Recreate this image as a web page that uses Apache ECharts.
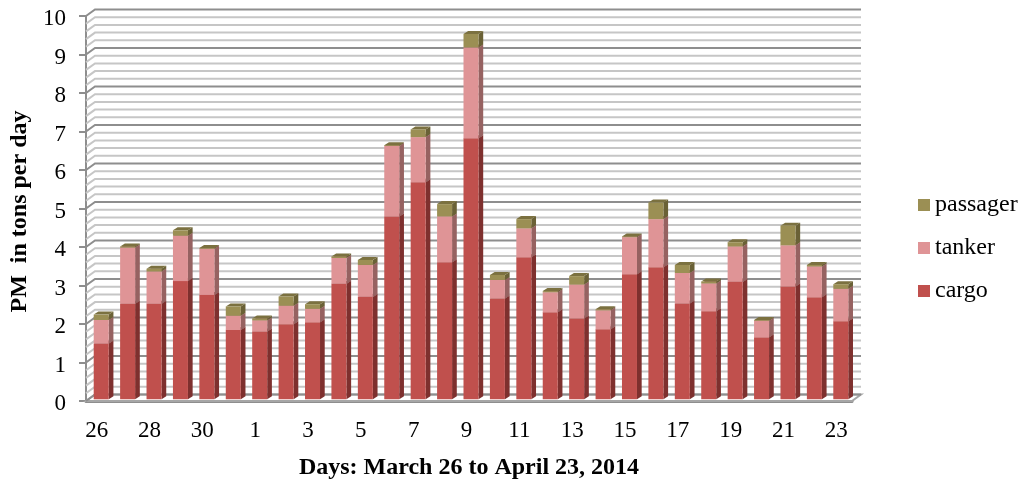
<!DOCTYPE html>
<html lang="en">
<head>
    <meta charset="UTF-8">
    <title>PM in tons per day</title>
    <script src="https://cdn.jsdelivr.net/npm/echarts@6/dist/echarts.min.js"></script>
    <style>
        html, body { margin: 0; padding: 0; background: #fff; }
    </style>
</head>
<body>
<div id="Main" style="width: 1023px; height: 481px;"></div>
<script type="text/javascript">
    var days = ['26','27','28','29','30','31','1','2','3','4','5','6','7','8','9','10','11','12','13','14','15','16','17','18','19','20','21','22','23'];
    var cargo = [1.45,2.48,2.48,3.07,2.71,1.80,1.76,1.95,2.00,3.00,2.66,4.75,5.64,3.56,6.78,2.62,3.69,2.26,2.10,1.82,3.25,3.43,2.49,2.29,3.05,1.61,2.93,2.65,2.03];
    var tanker = [0.61,1.46,0.84,1.18,1.20,0.37,0.29,0.48,0.35,0.67,0.83,1.83,1.17,1.19,2.36,0.48,0.75,0.52,0.88,0.49,0.96,1.25,0.79,0.72,0.92,0.43,1.07,0.80,0.84];
    var passager = [0.14,0.03,0.07,0.14,0.02,0.24,0.05,0.24,0.12,0.04,0.13,0.02,0.20,0.32,0.35,0.13,0.24,0.03,0.22,0.03,0.02,0.43,0.21,0.05,0.11,0.02,0.51,0.04,0.12];
    var yTicks = [0,1,2,3,4,5,6,7,8,9,10];
    var minorLevels = [0.2,0.4,0.6,0.8];

    var fontName = '"Liberation Serif", "Times New Roman", serif';

    // 3d look, pixels
    var wallX = 9, wallY = 6.5;
    var barW = 15, barShift = 2, barLift = 1.7, sideX = 4.7, sideY = 3;

    // back wall + left wall lines, heavier on whole numbers
    var wallData = [];
    yTicks.forEach(function (t) {
        wallData.push([t, 1]);
        if (t < 10) {
            minorLevels.forEach(function (m) { wallData.push([t + m, 0]); });
        }
    });

    function renderWall(params, api) {
        var y = api.coord([0, api.value(0)])[1];
        var major = api.value(1) === 1;
        var cs = params.coordSys;
        var style = { stroke: major ? '#8e8e8e' : '#c6c6c6', lineWidth: 2, fill: null };
        return {
            type: 'polyline',
            shape: { points: [[cs.x, y], [cs.x + wallX, y - wallY], [cs.x + cs.width + wallX, y - wallY]] },
            style: style,
            silent: true
        };
    }

    function renderFloor(params, api) {
        var y = api.coord([0, 0])[1];
        var cs = params.coordSys;
        return {
            type: 'polygon',
            shape: { points: [[cs.x, y], [cs.x + cs.width, y], [cs.x + cs.width + wallX, y - wallY], [cs.x + wallX, y - wallY]] },
            style: { fill: '#ffffff', stroke: '#a6a6a6', lineWidth: 2 },
            silent: true
        };
    }

    // one stacked piece: front, side and top faces
    function barRenderer(front, side, top) {
        return function (params, api) {
            var c0 = api.coord([api.value(0), api.value(1)]);
            var c1 = api.coord([api.value(0), api.value(2)]);
            var x0 = c0[0] + barShift - barW / 2, x1 = x0 + barW;
            var y0 = c0[1] - barLift, y1 = c1[1] - barLift;
            return {
                type: 'group',
                children: [
                    { type: 'polygon', shape: { points: [[x1, y0], [x1 + sideX, y0 - sideY], [x1 + sideX, y1 - sideY], [x1, y1]] }, style: { fill: side } },
                    { type: 'polygon', shape: { points: [[x0, y1], [x1, y1], [x1 + sideX, y1 - sideY], [x0 + sideX, y1 - sideY]] }, style: { fill: top } },
                    { type: 'rect', shape: { x: x0, y: y1, width: barW, height: y0 - y1 }, style: { fill: front } }
                ]
            };
        };
    }

    // running totals for the stack
    var cargoData = [], tankerData = [], passagerData = [];
    days.forEach(function (d, i) {
        var a = cargo[i], b = a + tanker[i], c = b + passager[i];
        cargoData.push([i, 0, a]);
        tankerData.push([i, a, b]);
        passagerData.push([i, b, c]);
    });

    var myChart = echarts.init(document.getElementById('Main'));
    myChart.setOption({
        animation: false,
        backgroundColor: '#ffffff',
        textStyle: { fontFamily: fontName },
        legend: {
            data: ['passager', 'tanker', 'cargo'],
            orient: 'vertical',
            left: 913,
            top: 188,
            itemWidth: 12,
            itemHeight: 12,
            itemGap: 19,
            icon: 'rect',
            textStyle: { fontFamily: fontName, fontSize: 24, color: '#000000', padding: [0, 0, 0, 0] }
        },
        grid: { left: 86, right: 171, top: 16, bottom: 80, outerBoundsMode: 'none' },
        xAxis: {
            type: 'category',
            data: days,
            name: 'Days: March 26 to April 23, 2014',
            nameLocation: 'middle',
            nameGap: 55,
            nameTextStyle: { fontFamily: fontName, fontSize: 24, fontWeight: 'bold', color: '#000000' },
            axisLine: { lineStyle: { color: '#8e8e8e', width: 3 } },
            axisTick: { show: false },
            axisLabel: { interval: 1, margin: 18, padding: [0, 5, 0, 0], fontFamily: fontName, fontSize: 23, color: '#000000' },
            splitLine: { show: false }
        },
        yAxis: {
            type: 'value',
            min: 0,
            max: 10,
            interval: 1,
            name: 'PM  in tons per day',
            nameLocation: 'middle',
            nameGap: 52,
            nameTextStyle: { fontFamily: fontName, fontSize: 24, fontWeight: 'bold', color: '#000000', padding: [0, 6, 0, 0] },
            axisLine: { show: true, lineStyle: { color: '#8e8e8e', width: 2 } },
            axisTick: { show: true, length: 7, lineStyle: { color: '#8e8e8e', width: 2 } },
            axisLabel: { margin: 20, verticalAlign: 'top', lineHeight: 6, fontFamily: fontName, fontSize: 23, color: '#000000' },
            splitLine: { show: false }
        },
        series: [
            { type: 'custom', name: 'floor', data: [[0]], renderItem: renderFloor, z: 1, silent: true },
            { type: 'custom', name: 'walls', data: wallData, renderItem: renderWall, z: 2, silent: true },
            { type: 'custom', name: 'cargo', data: cargoData, encode: { x: 0, y: 2 }, renderItem: barRenderer('#c0504d', '#7e302e', '#7e302e'), itemStyle: { color: '#c0504d' }, z: 3 },
            { type: 'custom', name: 'tanker', data: tankerData, encode: { x: 0, y: 2 }, renderItem: barRenderer('#df9496', '#966261', '#966261'), itemStyle: { color: '#df9496' }, z: 4 },
            { type: 'custom', name: 'passager', data: passagerData, encode: { x: 0, y: 2 }, renderItem: barRenderer('#9b8f54', '#6a6136', '#7b7140'), itemStyle: { color: '#9b8f54' }, z: 5 }
        ]
    });
</script>
</body>
</html>
